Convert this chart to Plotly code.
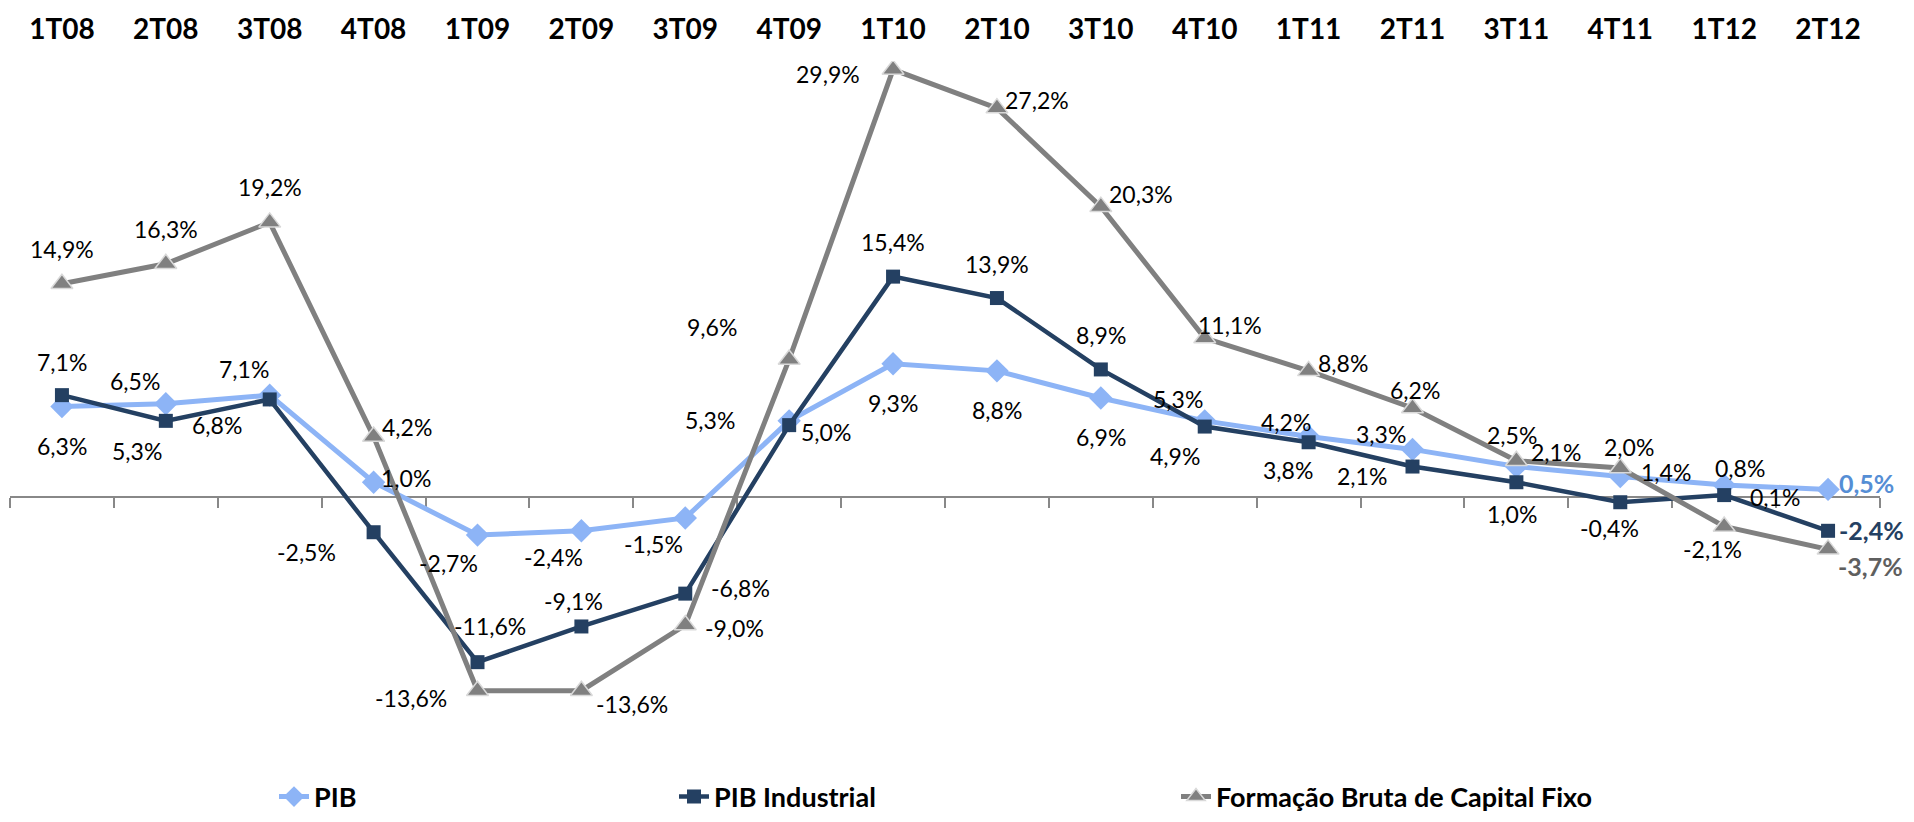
import plotly.graph_objects as go

categories = ["1T08", "2T08", "3T08", "4T08", "1T09", "2T09", "3T09", "4T09", "1T10",
              "2T10", "3T10", "4T10", "1T11", "2T11", "3T11", "4T11", "1T12", "2T12"]
pib = [6.3, 6.5, 7.1, 1.0, -2.7, -2.4, -1.5, 5.3, 9.3, 8.8, 6.9, 5.3, 4.2, 3.3, 2.1, 1.4, 0.8, 0.5]
pib_ind = [7.1, 5.3, 6.8, -2.5, -11.6, -9.1, -6.8, 5.0, 15.4, 13.9, 8.9, 4.9, 3.8, 2.1, 1.0, -0.4, 0.1, -2.4]
fbcf = [14.9, 16.3, 19.2, 4.2, -13.6, -13.6, -9.0, 9.6, 29.9, 27.2, 20.3, 11.1, 8.8, 6.2, 2.5, 2.0, -2.1, -3.7]
series_names = ["PIB", "PIB Industrial", "Formação Bruta de Capital Fixo"]

# label offsets in pixels (dx right, dy down) — styling only
off_pib = [(0, 39), (-31, -23), (-26, -26), (32, -4), (-29, 28), (-28, 26), (-32, 26), (-79, -1),
           (0, 39), (0, 39), (0, 39), (-27, -22), (-23, -15), (-32, -15), (40, -15), (46, -5),
           (16, -17), (38, -6)]
off_ind = [(0, -33), (-29, 30), (-53, 26), (-67, 20), (12, -36), (-8, -25), (55, -6), (37, 7),
           (0, -35), (0, -34), (0, -34), (-30, 29), (-21, 28), (-51, 9), (-4, 32), (-11, 26),
           (51, 2), (43, -1)]
off_fbcf = [(0, -35), (0, -35), (0, -35), (33, -10), (-67, 7), (51, 13), (49, 3), (-77, -32),
            (-65, 4), (40, -8), (40, -13), (25, -13), (34, -8), (2, -18), (-4, -26), (9, -21),
            (-12, 22), (42, 17)]

C_PIB = "#8DB4F6"
C_IND = "#244062"
C_FBCF = "#808080"
LAST_COLORS = ["#558ED5", "#244062", "#5F5F5F"]
FONT = "Lato, 'Liberation Sans', Arial, sans-serif"

x = list(range(len(categories)))
YMIN, YMAX = -16, 30.5

fig = go.Figure()
fig.add_trace(go.Scatter(
    x=x, y=pib, name=series_names[0], mode="lines+markers",
    line=dict(color=C_PIB, width=5),
    marker=dict(symbol="diamond", size=18, color=C_PIB),
    legend="legend"))
fig.add_trace(go.Scatter(
    x=x, y=pib_ind, name=series_names[1], mode="lines+markers",
    line=dict(color=C_IND, width=4.5),
    marker=dict(symbol="square", size=14, color=C_IND),
    legend="legend2"))
fig.add_trace(go.Scatter(
    x=x, y=fbcf, name=series_names[2], mode="lines+markers",
    line=dict(color=C_FBCF, width=5),
    marker=dict(symbol="triangle-up", size=19, color=C_FBCF,
                line=dict(color="#D9D9D9", width=1.5)),
    legend="legend3"))
# helper trace so the zero-line category axis is drawn
fig.add_trace(go.Scatter(x=[], y=[], xaxis="x2", showlegend=False, hoverinfo="skip"))

def fmt(v):
    return f"{v:.1f}%".replace(".", ",")

annotations = []
for si, (vals, offs) in enumerate([(pib, off_pib), (pib_ind, off_ind), (fbcf, off_fbcf)]):
    n = len(vals)
    for i, (v, (dx, dy)) in enumerate(zip(vals, offs)):
        last = i == n - 1
        annotations.append(dict(
            x=i, y=v, xref="x", yref="y", text=fmt(v), showarrow=False,
            xshift=dx, yshift=-dy,
            font=dict(family=FONT, size=23 if not last else 25,
                      color=LAST_COLORS[si] if last else "#000000",
                      weight="bold" if last else "normal")))

zero_pos = (0 - YMIN) / (YMAX - YMIN)
bounds = [i - 0.5 for i in range(len(categories) + 1)]

leg_common = dict(orientation="h", xref="container", yref="container",
                  yanchor="middle", xanchor="left", y=(822 - 789) / 822,
                  font=dict(family=FONT, size=27, color="#000000", weight="bold"),
                  bgcolor="rgba(0,0,0,0)")

fig.update_layout(
    width=1914, height=822,
    margin=dict(l=2, r=42, t=53, b=105, autoexpand=False),
    plot_bgcolor="white", paper_bgcolor="white",
    showlegend=True,
    legend=dict(x=266 / 1914, **leg_common),
    legend2=dict(x=666 / 1914, **leg_common),
    legend3=dict(x=1168 / 1914, **leg_common),
    xaxis=dict(range=[-0.5, len(categories) - 0.5], side="top", automargin=False,
               tickvals=x, ticktext=categories, ticks="", showgrid=False,
               zeroline=False, showline=False, ticklabelstandoff=15,
               tickfont=dict(family=FONT, size=28, color="#000000", weight="bold")),
    xaxis2=dict(range=[-0.5, len(categories) - 0.5], overlaying="x", anchor="free",
                position=zero_pos, side="bottom", tickvals=bounds, ticks="outside",
                ticklen=10, tickwidth=2, tickcolor="#888888", showline=True,
                linewidth=2, linecolor="#888888", showticklabels=False, automargin=False,
                showgrid=False, zeroline=False, layer="below traces"),
    yaxis=dict(range=[YMIN, YMAX], visible=False, showgrid=False, zeroline=False,
               automargin=False),
    annotations=annotations,
)

fig.write_html("out.html")
